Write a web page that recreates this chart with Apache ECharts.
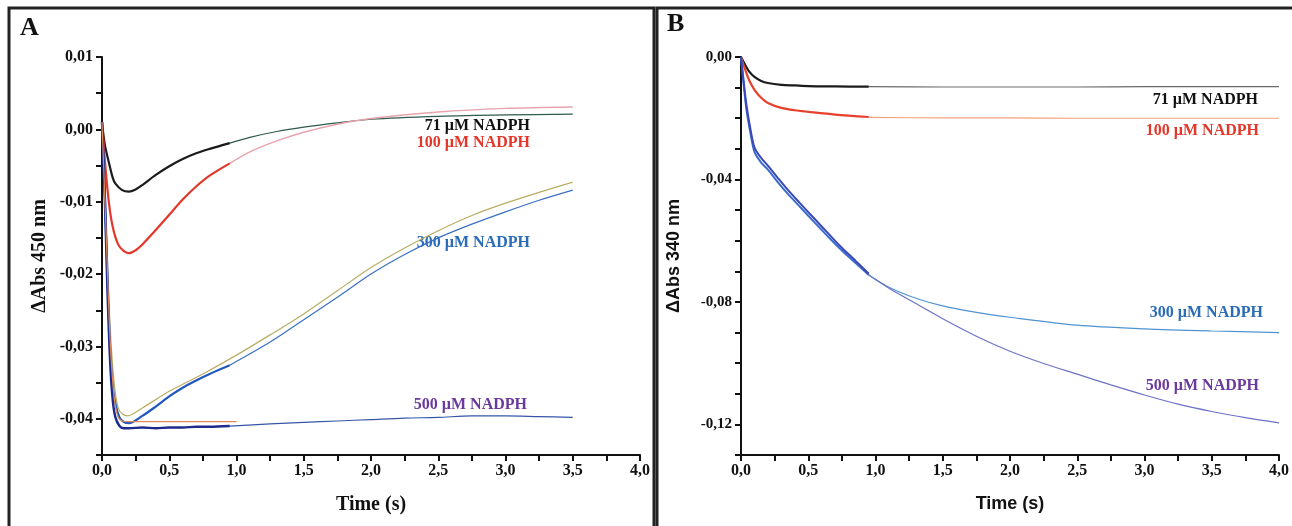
<!DOCTYPE html>
<html>
<head>
<meta charset="utf-8">
<script src="https://cdn.jsdelivr.net/npm/echarts@6/dist/echarts.min.js"></script>
<style>
  html, body { margin: 0; padding: 0; background: #fff; }
  #main { width: 1292px; height: 526px; }
</style>
</head>
<body>
<div id="main"></div>
<script>
// ---- panel A (ΔAbs 450 nm) ----
var a71T    = [0, 0.02, 0.05, 0.08, 0.1, 0.15, 0.2, 0.25, 0.3, 0.4, 0.5, 0.6, 0.7, 0.8, 0.95];
var a71Data = [0.001, -0.002, -0.0045, -0.0067, -0.0075, -0.0084, -0.0086, -0.0083, -0.0077, -0.0063, -0.0051, -0.0041, -0.0033, -0.0027, -0.0019];
var a71FitT = [0.95, 1.1, 1.3, 1.5, 1.75, 2.0, 2.5, 3.0, 3.5];
var a71Fit  = [-0.0019, -0.0011, -0.0003, 0.0003, 0.0009, 0.0014, 0.0018, 0.002, 0.0021];

var a100T    = [0, 0.02, 0.05, 0.08, 0.12, 0.16, 0.2, 0.25, 0.3, 0.4, 0.5, 0.6, 0.7, 0.8, 0.95];
var a100Data = [0.001, -0.004, -0.0099, -0.0135, -0.0159, -0.0168, -0.0171, -0.0167, -0.0159, -0.0139, -0.0118, -0.0097, -0.0079, -0.0064, -0.0047];
var a100FitT = [0.95, 1.1, 1.3, 1.5, 1.75, 2.0, 2.5, 3.0, 3.5];
var a100Fit  = [-0.0047, -0.0031, -0.0016, -0.0004, 0.0007, 0.0015, 0.0024, 0.0029, 0.0031];

var a300T    = [0, 0.02, 0.04, 0.06, 0.08, 0.1, 0.13, 0.16, 0.2, 0.3, 0.4, 0.5, 0.6, 0.7, 0.8, 0.95];
var a300Data = [0.001, -0.008, -0.02, -0.03, -0.0355, -0.038, -0.0398, -0.0404, -0.0406, -0.0396, -0.0383, -0.0369, -0.0357, -0.0347, -0.0338, -0.0326];
var a300RestT = [0.95, 1.25, 1.5, 1.75, 2.0, 2.25, 2.5, 2.75, 3.0, 3.25, 3.5];
var a300Rest  = [-0.0326, -0.0294, -0.0263, -0.0232, -0.02, -0.0173, -0.015, -0.0131, -0.0114, -0.0098, -0.0084];
var a300FitT = [0, 0.03, 0.06, 0.09, 0.12, 0.15, 0.19, 0.3, 0.5, 0.75, 1.0, 1.25, 1.5, 1.75, 2.0, 2.25, 2.5, 2.75, 3.0, 3.25, 3.5];
var a300Fit  = [0.001, -0.013, -0.027, -0.035, -0.0385, -0.0393, -0.0396, -0.0385, -0.0362, -0.0338, -0.0312, -0.0284, -0.0255, -0.0223, -0.0191, -0.0164, -0.014, -0.0119, -0.0102, -0.0087, -0.0073];

var a500T    = [0, 0.02, 0.04, 0.06, 0.08, 0.1, 0.13, 0.16, 0.2, 0.3, 0.4, 0.5, 0.6, 0.7, 0.8, 0.95];
var a500Data = [0.001, -0.009, -0.022, -0.032, -0.0375, -0.0398, -0.041, -0.0413, -0.0413, -0.0412, -0.0413, -0.0412, -0.0412, -0.0411, -0.0411, -0.041];
var a500FitT = [0, 0.03, 0.06, 0.09, 0.12, 0.15, 0.2, 0.5, 1.0];
var a500Fit  = [0.001, -0.014, -0.029, -0.037, -0.0398, -0.0403, -0.0404, -0.0404, -0.0404];
var a500RestT = [0.95, 1.25, 1.5, 1.75, 2.0, 2.25, 2.5, 2.75, 3.0, 3.25, 3.5];
var a500Rest  = [-0.041, -0.0407, -0.0405, -0.0403, -0.0401, -0.0399, -0.0398, -0.0396, -0.0396, -0.0397, -0.0398];

// ---- panel B (ΔAbs 340 nm) ----
var b71T    = [0, 0.03, 0.06, 0.1, 0.15, 0.2, 0.3, 0.4, 0.5, 0.7, 0.95];
var b71Data = [0, -0.0025, -0.0047, -0.0065, -0.0078, -0.0085, -0.0091, -0.0093, -0.0095, -0.0096, -0.0097];
var b71FitT = [0.95, 1.5, 2.0, 2.5, 3.0, 3.5, 4.0];
var b71Fit  = [-0.0097, -0.0098, -0.0098, -0.0098, -0.0097, -0.0097, -0.0097];

var b100T    = [0, 0.03, 0.06, 0.1, 0.15, 0.2, 0.3, 0.4, 0.5, 0.7, 0.95];
var b100Data = [0, -0.004, -0.0075, -0.0107, -0.0133, -0.015, -0.0166, -0.0174, -0.0179, -0.0188, -0.0196];
var b100FitT = [0.95, 1.5, 2.0, 2.5, 3.0, 3.5, 4.0];
var b100Fit  = [-0.0197, -0.0199, -0.0199, -0.02, -0.02, -0.02, -0.02];

var b300T    = [0, 0.02, 0.04, 0.07, 0.1, 0.15, 0.2, 0.27, 0.35, 0.44, 0.55, 0.65, 0.75, 0.85, 0.95];
var b300Data = [0, -0.009, -0.017, -0.0248, -0.031, -0.0345, -0.0368, -0.0407, -0.0448, -0.049, -0.0542, -0.0588, -0.0632, -0.0672, -0.0712];
var b300FitT = [0.95, 1.1, 1.3, 1.5, 1.75, 2.0, 2.5, 3.0, 3.5, 4.0];
var b300Fit  = [-0.0712, -0.0752, -0.0788, -0.0813, -0.0834, -0.085, -0.0876, -0.0888, -0.0895, -0.09];

var b500T    = [0, 0.02, 0.04, 0.07, 0.1, 0.15, 0.2, 0.27, 0.35, 0.44, 0.55, 0.65, 0.75, 0.85, 0.95];
var b500Data = [0, -0.008, -0.0155, -0.0235, -0.0295, -0.033, -0.0355, -0.0393, -0.0435, -0.0478, -0.053, -0.0577, -0.0623, -0.0665, -0.0708];
var b500FitT = [0.95, 1.1, 1.3, 1.5, 1.75, 2.0, 2.25, 2.5, 2.75, 3.0, 3.25, 3.5, 3.75, 4.0];
var b500Fit  = [-0.0712, -0.0755, -0.0805, -0.0855, -0.0912, -0.0961, -0.1001, -0.1036, -0.1071, -0.1104, -0.1134, -0.1158, -0.1178, -0.1195];

var labels = ['71 µM NADPH', '100 µM NADPH', '300 µM NADPH', '500 µM NADPH'];
var labelColors = ['#111111', '#e2372a', '#2a6cb8', '#6b3a9c'];

function pairs(t, v) {
    return t.map(function (x, i) { return [x, v[i]]; });
}

function line(name, t, v, color, width, grid) {
    return {
        name: name,
        type: 'line',
        xAxisIndex: grid,
        yAxisIndex: grid,
        data: pairs(t, v),
        showSymbol: false,
        smooth: 0.3,
        lineStyle: { color: color, width: width },
        silent: true,
        animation: false
    };
}

var serif = 'Liberation Serif, Times New Roman, serif';
var sans = 'Liberation Sans, Arial, sans-serif';

function fmtComma(v, d) {
    var s = v.toFixed(d).replace('.', ',');
    if (s.indexOf('-0,') === 0 && Number(v.toFixed(d)) === 0) s = s.substring(1);
    return s;
}

function xAxis(grid, titleFont, titleSize) {
    return {
        type: 'value', gridIndex: grid, min: 0, max: 4, interval: 0.25,
        name: 'Time (s)', nameLocation: 'middle', nameGap: 40,
        nameTextStyle: { fontFamily: titleFont, fontWeight: 'bold', fontSize: titleSize, color: '#111' },
        axisLine: { onZero: false, lineStyle: { color: '#111', width: 2 } },
        axisTick: { length: 6, lineStyle: { color: '#111', width: 2 } },
        splitLine: { show: false },
        axisLabel: {
            fontFamily: serif, fontWeight: 'bold', fontSize: 16, color: '#111', margin: 8,
            formatter: function (v) {
                return Math.abs(v * 2 - Math.round(v * 2)) < 1e-6 ? fmtComma(v, 1) : '';
            }
        }
    };
}

var myChart = echarts.init(document.getElementById('main'));

var option = {
    backgroundColor: '#fff',
    animation: false,
    grid: [
        { left: 102, top: 57, width: 538, height: 398 },
        { left: 741, top: 57, width: 540, height: 398 }
    ],
    xAxis: [xAxis(0, serif, 20), xAxis(1, sans, 18)],
    yAxis: [
        {
            type: 'value', gridIndex: 0, min: -0.045, max: 0.01, interval: 0.005,
            name: 'ΔAbs 450 nm', nameLocation: 'middle', nameGap: 52, nameRotate: 90,
            nameTextStyle: { fontFamily: serif, fontWeight: 'bold', fontSize: 20, color: '#111' },
            axisLine: { show: true, onZero: false, lineStyle: { color: '#111', width: 2 } },
            axisTick: { show: true, length: 6, lineStyle: { color: '#111', width: 2 } },
            splitLine: { show: false },
            axisLabel: {
                fontFamily: serif, fontWeight: 'bold', fontSize: 16, color: '#111', margin: 9,
                formatter: function (v) {
                    return Math.abs(v * 100 - Math.round(v * 100)) < 1e-6 ? fmtComma(v, 2) : '';
                }
            }
        },
        {
            type: 'value', gridIndex: 1, min: -0.13, max: 0, interval: 0.01,
            name: 'ΔAbs 340 nm', nameLocation: 'middle', nameGap: 58, nameRotate: 90,
            nameTextStyle: { fontFamily: sans, fontWeight: 'bold', fontSize: 18, color: '#111' },
            axisLine: { show: true, onZero: false, lineStyle: { color: '#111', width: 2 } },
            axisTick: { show: true, length: 6, lineStyle: { color: '#111', width: 2 } },
            splitLine: { show: false },
            axisLabel: {
                fontFamily: serif, fontWeight: 'bold', fontSize: 15, color: '#111', margin: 9,
                formatter: function (v) {
                    var k = Math.round(v * 100);
                    return (Math.abs(v * 100 - k) < 1e-6 && k % 4 === 0) ? fmtComma(v, 2) : '';
                }
            }
        }
    ],
    series: [
        // panel A: fits / continuations first, raw traces on top
        line('a300fit', a300FitT, a300Fit, '#b8ad62', 1.2, 0),
        line('a300rest', a300RestT, a300Rest, '#3a6fc4', 1.2, 0),
        line('a500rest', a500RestT, a500Rest, '#3556a8', 1.2, 0),
        line('a71fit', a71FitT, a71Fit, '#2f5a4c', 1.2, 0),
        line('a100fit', a100FitT, a100Fit, '#e7a3ad', 1.4, 0),
        line('a71', a71T, a71Data, '#1b1b1b', 2.2, 0),
        line('a100', a100T, a100Data, '#e2372a', 2.2, 0),
        line('a300', a300T, a300Data, '#2058c0', 2.2, 0),
        line('a500', a500T, a500Data, '#1c2b8c', 2.4, 0),
        line('a500fit', a500FitT, a500Fit, '#e08a5a', 1.2, 0),
        // panel B
        line('b71fit', b71FitT, b71Fit, '#6a6a6a', 1.2, 1),
        line('b100fit', b100FitT, b100Fit, '#f2a07e', 1.2, 1),
        line('b300fit', b300FitT, b300Fit, '#4f93d2', 1.2, 1),
        line('b500fit', b500FitT, b500Fit, '#6e72c6', 1.2, 1),
        line('b71', b71T, b71Data, '#1b1b1b', 2.2, 1),
        line('b100', b100T, b100Data, '#e8402c', 2.2, 1),
        line('b300', b300T, b300Data, '#3a6ccc', 2, 1),
        line('b500', b500T, b500Data, '#3a48b8', 2, 1)
    ],
    graphic: [
        { type: 'rect', shape: { x: 9, y: 8, width: 645, height: 530 }, style: { fill: null, stroke: '#222', lineWidth: 3 } },
        { type: 'rect', shape: { x: 657, y: 8, width: 650, height: 530 }, style: { fill: null, stroke: '#222', lineWidth: 3 } },
        { type: 'text', left: 20, top: 15, style: { text: 'A', font: 'bold 26px ' + serif, fill: '#111' } },
        { type: 'text', left: 667, top: 11, style: { text: 'B', font: 'bold 26px ' + serif, fill: '#111' } },
        // panel A labels
        { type: 'text', x: 530, y: 126, style: { text: labels[0], font: 'bold 16px ' + serif, fill: labelColors[0], align: 'right', verticalAlign: 'middle' } },
        { type: 'text', x: 530, y: 143, style: { text: labels[1], font: 'bold 16px ' + serif, fill: labelColors[1], align: 'right', verticalAlign: 'middle' } },
        { type: 'text', x: 530, y: 243, style: { text: labels[2], font: 'bold 16px ' + serif, fill: labelColors[2], align: 'right', verticalAlign: 'middle' } },
        { type: 'text', x: 527, y: 405, style: { text: labels[3], font: 'bold 16px ' + serif, fill: labelColors[3], align: 'right', verticalAlign: 'middle' } },
        // panel B labels
        { type: 'text', x: 1258, y: 100, style: { text: labels[0], font: 'bold 16px ' + serif, fill: labelColors[0], align: 'right', verticalAlign: 'middle' } },
        { type: 'text', x: 1259, y: 131, style: { text: labels[1], font: 'bold 16px ' + serif, fill: labelColors[1], align: 'right', verticalAlign: 'middle' } },
        { type: 'text', x: 1263, y: 313, style: { text: labels[2], font: 'bold 16px ' + serif, fill: labelColors[2], align: 'right', verticalAlign: 'middle' } },
        { type: 'text', x: 1259, y: 386, style: { text: labels[3], font: 'bold 16px ' + serif, fill: labelColors[3], align: 'right', verticalAlign: 'middle' } }
    ]
};

myChart.setOption(option);
</script>
</body>
</html>
